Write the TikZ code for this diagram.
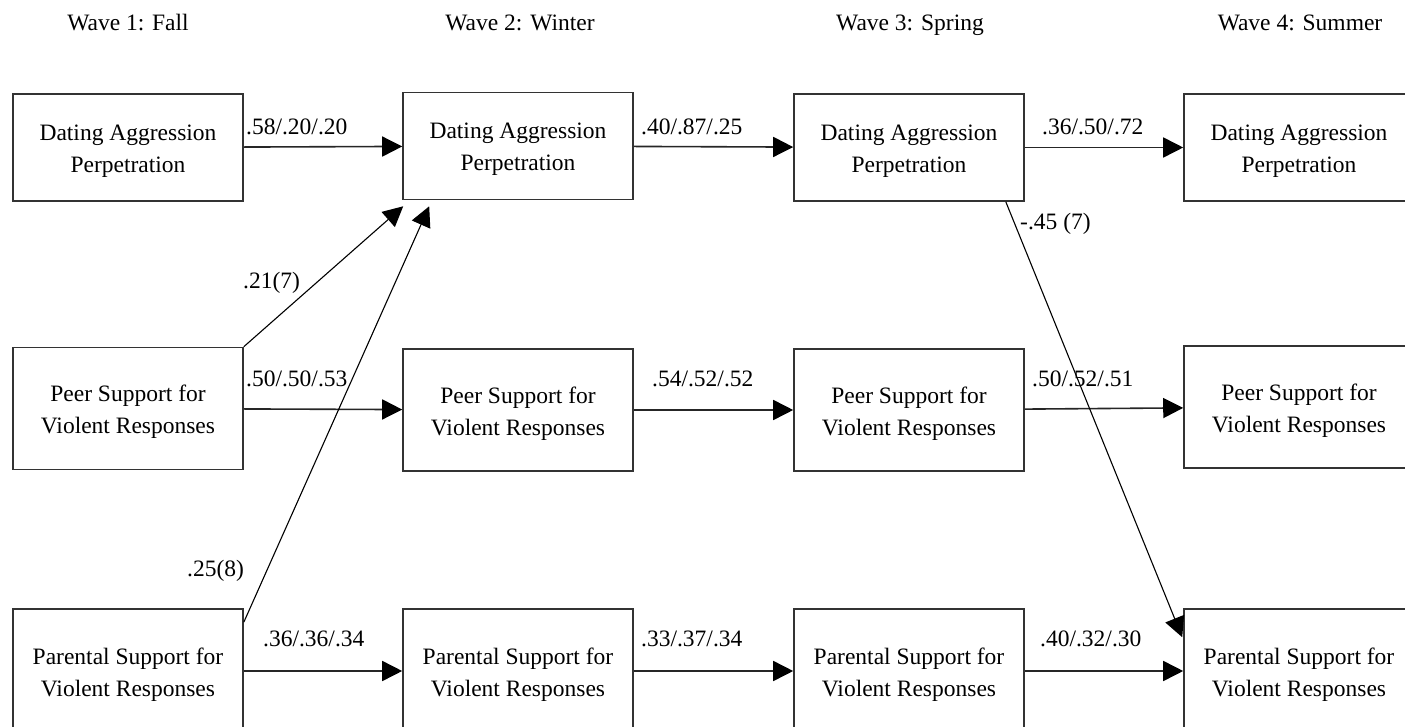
\documentclass[tikz,border=0pt]{standalone}
\usepackage{fontspec}
\setmainfont{Liberation Serif}
\usetikzlibrary{arrows.meta}

\tikzset{
  varbox/.style={draw=black!80, line width=1.6pt, rectangle, inner sep=0pt,
    minimum width=230pt, align=center, font=\fontsize{23.5}{32}\selectfont,
    text height=50pt, text depth=0pt},
  rowA/.style={varbox, minimum height=107pt},
  rowB/.style={varbox, minimum height=122pt},
  rowC/.style={varbox, minimum height=124pt},
  stab/.style={draw=black!85, line width=1.6pt,
    -{Triangle[length=20pt,width=20pt,fill=black,color=black]}},
  cross/.style={draw=black, line width=1.1pt,
    -{Triangle[length=20pt,width=20pt,fill=black]}},
  coef/.style={inner sep=0pt, anchor=base west, font=\fontsize{23.5}{28}\selectfont},
  wave/.style={inner sep=0pt, anchor=base, font=\fontsize{23.5}{28}\selectfont}
}

\begin{document}
\begin{tikzpicture}[x=1pt, y=-1pt]
\useasboundingbox (0,0) rectangle (1405,727);
\fill[white] (0,0) rectangle (1405,727);
\clip (0,0) rectangle (1405,727);

% wave headings
\node[wave] (w1) at (128,31) {Wave 1: Fall};
\node[wave] (w2) at (520,31) {Wave 2: Winter};
\node[wave] (w3) at (910,31) {Wave 3: Spring};
\node[wave] (w4) at (1300,31) {Wave 4: Summer};

% dating aggression row
\node[rowA] (a1) at (128,147.5) {Dating Aggression\\Perpetration};
\node[rowA] (a2) at (518,146)   {Dating Aggression\\Perpetration};
\node[rowA] (a3) at (909,147.5) {Dating Aggression\\Perpetration};
\node[rowA] (a4) at (1299,147.5){Dating Aggression\\Perpetration};

% peer support row
\node[rowB] (b1) at (128,408.5) {Peer Support for\\Violent Responses};
\node[rowB] (b2) at (518,410)   {Peer Support for\\Violent Responses};
\node[rowB] (b3) at (909,410)   {Peer Support for\\Violent Responses};
\node[rowB] (b4) at (1299,407)  {Peer Support for\\Violent Responses};

% parental support row
\node[rowC] (c1) at (128,671) {Parental Support for\\Violent Responses};
\node[rowC] (c2) at (518,671) {Parental Support for\\Violent Responses};
\node[rowC] (c3) at (909,671) {Parental Support for\\Violent Responses};
\node[rowC] (c4) at (1299,671){Parental Support for\\Violent Responses};

% stability paths
\draw[stab] (a1) -- (a2);
\draw[stab] (a2) -- (a3);
\draw[stab] (a3) -- (a4);
\draw[stab] (b1) -- (b2);
\draw[stab] (b2) -- (b3);
\draw[stab] (b3) -- (b4);
\draw[stab] (c1) -- (c2);
\draw[stab] (c2) -- (c3);
\draw[stab] (c3) -- (c4);

% cross-lagged paths
\coordinate (t1) at ([xshift=1pt,yshift=-6pt]a2.south west);
\coordinate (t2) at ([xshift=27pt,yshift=-6pt]a2.south west);
\coordinate (s2) at ([yshift=-14pt]c1.north east);
\coordinate (s3) at ([xshift=-19pt]a3.south east);
\coordinate (t3) at ([xshift=-1pt,yshift=-29pt]c4.north west);
\draw[cross] (b1.north east) -- (t1);
\draw[cross] (s2) -- (t2);
\draw[cross] (s3) -- (t3);

% path coefficients
\node[coef] (ka12) at (246,135)  {.58/.20/.20};
\node[coef] (ka23) at (641,135)  {.40/.87/.25};
\node[coef] (ka34) at (1042,135) {.36/.50/.72};
\node[coef] (kb12) at (246,386)  {.50/.50/.53};
\node[coef] (kb23) at (652,386)  {.54/.52/.52};
\node[coef] (kb34) at (1032,386) {.50/.52/.51};
\node[coef] (kc12) at (263,646)  {.36/.36/.34};
\node[coef] (kc23) at (641,646)  {.33/.37/.34};
\node[coef] (kc34) at (1040,646) {.40/.32/.30};
\node[coef] (kx1) at (243,288)  {.21(7)};
\node[coef] (kx2) at (187,576)  {.25(8)};
\node[coef] (kx3) at (1020,230) {-.45 (7)};
\end{tikzpicture}
\end{document}
